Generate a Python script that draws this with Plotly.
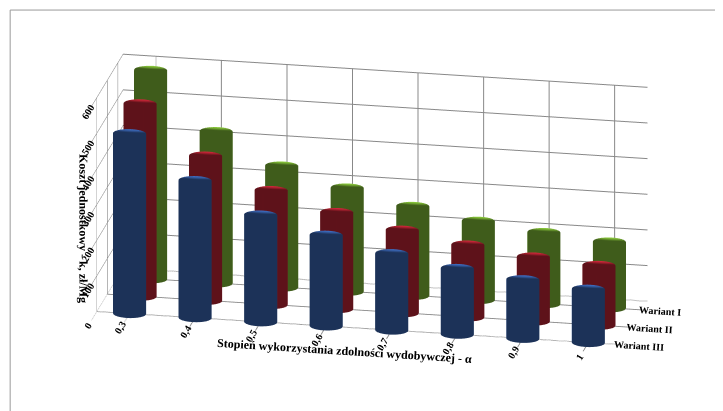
import numpy as np
import plotly.graph_objects as go

categories = ['0,3', '0,4', '0,5', '0,6', '0,7', '0,8', '0,9', '1']
series_names = ['Wariant III', 'Wariant II', 'Wariant I']
wariant_iii = [505, 385, 300, 255, 215, 185, 165, 150]
wariant_ii = [540, 405, 320, 270, 232, 202, 180, 168]
wariant_i = [585, 425, 340, 290, 250, 220, 200, 185]
colors = ['#3f6fc4', '#d2283a', '#8ccc3c']

values = [wariant_iii, wariant_ii, wariant_i]


def cylinder(cx, cy, h, r=0.25, n=28):
    t = np.linspace(0, 2 * np.pi, n, endpoint=False)
    xs = np.concatenate([cx + r * np.cos(t), cx + r * np.cos(t), [cx, cx]])
    ys = np.concatenate([cy + r * np.sin(t), cy + r * np.sin(t), [cy, cy]])
    zs = np.concatenate([np.zeros(n), np.full(n, h), [0, h]])
    i, j, k = [], [], []
    for a in range(n):
        b = (a + 1) % n
        i += [a, b]
        j += [b, n + b]
        k += [n + a, n + a]
        i.append(2 * n + 1); j.append(n + a); k.append(n + b)
        i.append(2 * n); j.append(a); k.append(b)
    return xs, ys, zs, i, j, k


fig = go.Figure()
for s, (name, vals) in enumerate(zip(series_names, values)):
    X, Y, Z, I, J, K = [], [], [], [], [], []
    off = 0
    for c, v in enumerate(vals):
        xs, ys, zs, i, j, k = cylinder(c, s, v / 100.0)
        X += list(xs); Y += list(ys); Z += list(zs)
        I += [q + off for q in i]; J += [q + off for q in j]; K += [q + off for q in k]
        off += len(xs)
    fig.add_trace(go.Mesh3d(x=X, y=Y, z=Z, i=I, j=J, k=K, color=colors[s], name=name,
                            flatshading=False,
                            lighting=dict(ambient=0.45, diffuse=0.8, specular=0.6, roughness=0.4, fresnel=0.3),
                            lightposition=dict(x=-200, y=-300, z=400)))

font = dict(family='Liberation Serif', size=11, color='black', weight='bold')
fig.update_layout(
    width=723, height=411,
    paper_bgcolor='white',
    margin=dict(l=0, r=0, t=0, b=0),
    showlegend=False,
    font=font,
    scene=dict(
        domain=dict(x=[0.0, 1.0], y=[0.0, 1.0]),
        xaxis=dict(title=dict(text='Stopień wykorzystania zdolności wydobywczej - α', font=dict(size=12, weight='bold')),
                   tickvals=list(range(len(categories))), ticktext=categories,
                   range=[-0.5, len(categories) - 0.5], showbackground=False,
                   gridcolor='#888', tickfont=font),
        yaxis=dict(title=dict(text=''), tickvals=[0, 1, 2], ticktext=series_names,
                   range=[-0.5, 2.5], showbackground=False, gridcolor='#888', tickfont=font),
        zaxis=dict(title=dict(text='Koszt jednostkowy - k, zł/Mg', font=dict(size=12, weight='bold')),
                   tickvals=[0, 1, 2, 3, 4, 5, 6], ticktext=['0', '100', '200', '300', '400', '500', '600'],
                   range=[0, 6], showbackground=False, gridcolor='#888', tickfont=font),
        aspectmode='manual', aspectratio=dict(x=2.6, y=0.8, z=1.1),
        camera=dict(eye=dict(x=0.45, y=-2.3, z=0.75), center=dict(x=0, y=0, z=-0.05),
                    projection=dict(type='orthographic')),
    ),
    shapes=[dict(type='rect', xref='paper', yref='paper', x0=0.003, y0=0.005, x1=0.997, y1=0.995,
                 line=dict(color='#999', width=1))],
)

fig.write_html('out.html')
